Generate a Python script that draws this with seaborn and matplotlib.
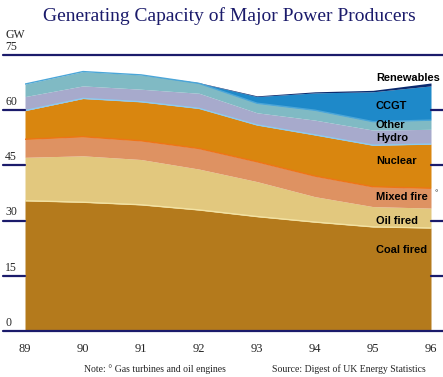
import numpy as np
import matplotlib
matplotlib.use('Agg')
import matplotlib.pyplot as plt
import matplotlib.transforms as mtransforms
import seaborn as sns

# ──────────────────────────────────────────────
# DATA (GW)
# ──────────────────────────────────────────────
years      = [89, 90, 91, 92, 93, 94, 95, 96]
year_lbls  = ['89', '90', '91', '92', '93', '94', '95', '96']
coal       = [35.4, 35.0, 34.3, 32.9, 31.1, 29.6, 28.3, 28.0]
oil        = [11.8, 12.6, 12.3, 11.1, 9.5, 6.9, 5.5, 5.4]
mixed      = [4.9, 5.2, 5.1, 5.6, 5.4, 5.6, 5.4, 5.4]
nuclear    = [7.8, 10.4, 10.6, 10.9, 10.0, 11.2, 11.3, 12.0]
hydro      = [3.8, 3.4, 3.4, 4.1, 3.3, 4.0, 4.1, 4.0]
other      = [3.4, 3.9, 3.9, 2.7, 2.6, 2.7, 2.3, 2.5]
ccgt       = [0.0, 0.0, 0.0, 0.1, 1.8, 4.7, 8.1, 9.3]
renewables = [0.0, 0.0, 0.0, 0.1, 0.2, 0.3, 0.4, 0.8]
yticks     = [0, 15, 30, 45, 60, 75]

layers = [coal, oil, mixed, nuclear, hydro, other, ccgt, renewables]
colors = ['#B47A1C', '#E2C87E', '#DE9262', '#D9860F',
          '#A7AACC', '#80BAC4', '#1E89C9', '#0B2A6E']
# thin strokes drawn on top of some layers (layer index -> colour)
edges = {0: '#F2E2A2', 2: '#EE7418', 3: '#8CCBEF', 5: '#4BA6D8'}

labels = [('Coal fired', 22.0), ('Oil fired', 29.9), ('Mixed fire', 36.4),
          ('Nuclear', 46.2), ('Hydro', 52.4), ('Other', 56.0),
          ('CCGT', 61.1), ('Renewables', 68.8)]

SERIF = ['Liberation Serif', 'DejaVu Serif']
SANS  = ['Liberation Sans', 'DejaVu Sans']
NAVY  = '#1B1B6B'

sns.set_style('white')
plt.rcParams['font.family'] = SERIF

fig = plt.figure(figsize=(4.43, 3.77), dpi=100)
ax = fig.add_axes([25 / 443, 46 / 377, 406 / 443, 276 / 377])

ax.stackplot(years, *layers, colors=colors, linewidth=0)

tops = np.cumsum(np.array(layers), axis=0)
for i, c in edges.items():
    sns.lineplot(x=years, y=tops[i], ax=ax, color=c, linewidth=1.0)

ax.set_xlim(89, 96)
ax.set_ylim(0, 75)
for s in ax.spines.values():
    s.set_visible(False)
ax.set_yticks([])
ax.set_xticks(years)
ax.set_xticklabels(year_lbls, fontsize=9, family=SERIF)
ax.tick_params(axis='x', length=0, pad=9)

# gridline stubs and y labels, like the original
tr = mtransforms.blended_transform_factory(ax.transAxes, ax.transData)
for v in yticks:
    if v in (0, 75):
        ax.plot([-0.054, 1.03], [v, v], transform=tr, color=NAVY, lw=1.6, clip_on=False)
    else:
        ax.plot([-0.054, 0.0], [v, v], transform=tr, color=NAVY, lw=1.6, clip_on=False)
        ax.plot([1.0, 1.03], [v, v], transform=tr, color=NAVY, lw=1.6, clip_on=False)
    ax.text(-0.049, v + 0.6, str(v), transform=tr, fontsize=8.5, ha='left', va='bottom')
ax.text(-0.049, 78.9, 'GW', transform=tr, fontsize=8.5, ha='left', va='bottom')

# series names on the right, inside the last year
for name, y in labels:
    ax.text(95.05, y, name, fontsize=7.9, fontweight='bold', family=SANS,
            ha='left', va='center', color='black')
ax.text(96.06, 37.4, '°', fontsize=6, family=SANS, ha='left', va='center')

fig.text(0.518, 0.958, 'Generating Capacity of Major Power Producers', color=NAVY,
         fontsize=14, ha='center', va='center', family=SERIF)
fig.text(0.19, 0.02, 'Note: ° Gas turbines and oil engines', fontsize=7,
         ha='left', va='center', family=SERIF)
fig.text(0.96, 0.02, 'Source: Digest of UK Energy Statistics', fontsize=7,
         ha='right', va='center', family=SERIF)

fig.savefig('out.png', dpi=100)
